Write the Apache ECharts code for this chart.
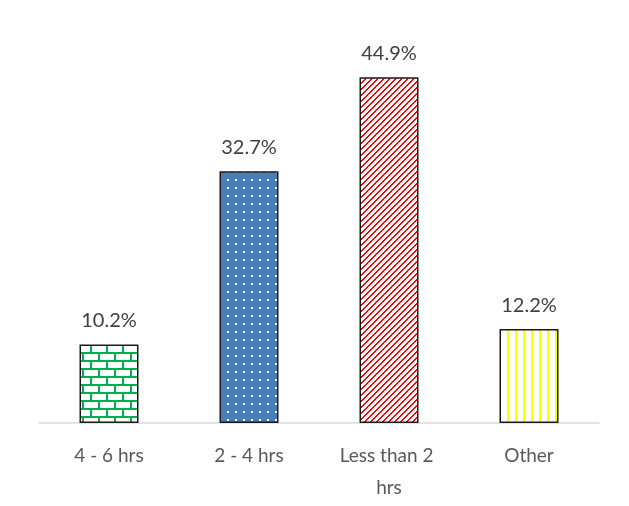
<!DOCTYPE html>
<html><head><meta charset="utf-8">
<script src="https://cdn.jsdelivr.net/npm/echarts@6/dist/echarts.min.js"></script>
<style>html,body{margin:0;padding:0;background:#fff}#c{width:629px;height:506px}</style>
</head><body><div id="c"></div>
<script>
const categories = ['4 - 6 hrs', '2 - 4 hrs', 'Less than 2 hrs', 'Other'];
const values = [10.2, 32.7, 44.9, 12.2];

function mk(w, h, draw) {
  const c = document.createElement('canvas');
  c.width = w; c.height = h;
  const g = c.getContext('2d');
  draw(g);
  return { image: c, repeat: 'repeat' };
}
const brick = mk(16, 16, g => {
  g.fillStyle = '#fff'; g.fillRect(0, 0, 16, 16);
  g.fillStyle = '#00B050';
  g.fillRect(0, 0, 16, 2); g.fillRect(0, 8, 16, 2);
  g.fillRect(2, 0, 2, 8); g.fillRect(10, 8, 2, 8);
});
const dots = mk(16, 16, g => {
  g.fillStyle = '#4A7EBB'; g.fillRect(0, 0, 16, 16);
  g.fillStyle = '#fff';
  g.fillRect(3, 3, 2, 2); g.fillRect(11, 11, 2, 2);
  g.fillRect(11, 3, 2, 2); g.fillRect(3, 11, 2, 2);
});
const diag = mk(6, 6, g => {
  g.fillStyle = '#fff'; g.fillRect(0, 0, 6, 6);
  g.fillStyle = '#FF0000';
  for (let i = 0; i < 6; i++) { g.fillRect(i, 5 - i, 1, 1); }
  for (let i = 0; i < 6; i++) { g.fillRect((i + 1) % 6, 5 - i, 1, 1); }
});
const vstripe = mk(8, 8, g => {
  g.fillStyle = '#fff'; g.fillRect(0, 0, 8, 8);
  g.fillStyle = '#FFFF00'; g.fillRect(3, 0, 2, 8);
});
const fills = [brick, dots, diag, vstripe];

const chart = echarts.init(document.getElementById('c'));
chart.setOption({
  animation: false,
  grid: { left: 39, right: 30, top: 38, bottom: 83 },
  xAxis: {
    type: 'category', data: categories,
    axisLine: { lineStyle: { color: '#D9D9D9', width: 1.5 } },
    axisTick: { show: false },
    axisLabel: { color: '#595959', fontSize: 19, fontFamily: 'Lato', margin: 17, lineHeight: 32,
      width: 118, overflow: 'break', interval: 0 }
  },
  yAxis: { type: 'value', min: 0, max: 50, show: false, splitLine: { show: false } },
  series: [{
    type: 'bar', barWidth: 59,
    data: values.map((v, i) => ({ value: v, itemStyle: { color: fills[i] } })),
    itemStyle: { borderColor: '#1a1a1a', borderWidth: 1.5 },
    label: { show: true, position: 'top', distance: 14, color: '#404040', fontSize: 20, fontFamily: 'Lato',
      formatter: p => p.value.toFixed(1) + '%' }
  }]
});
</script></body></html>
